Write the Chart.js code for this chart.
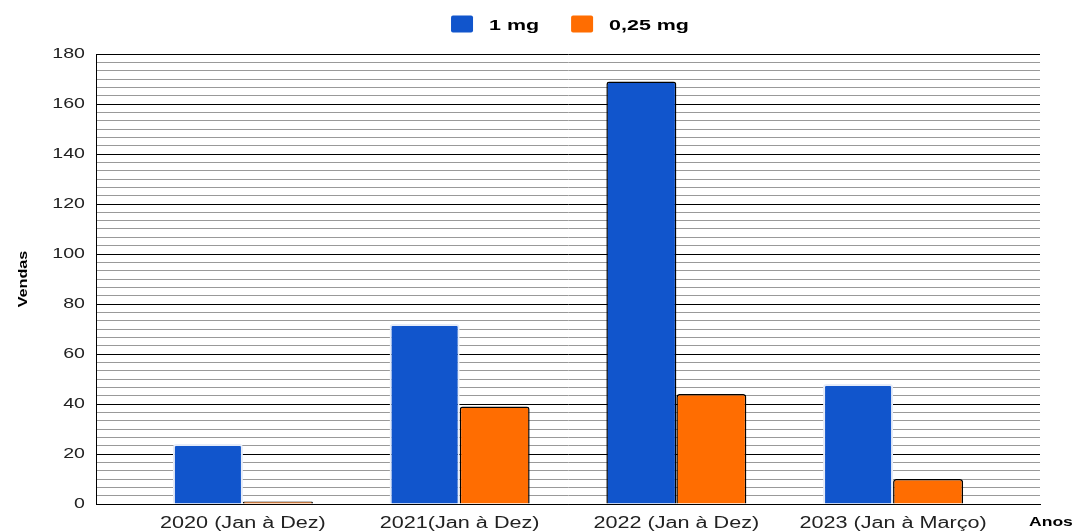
<!DOCTYPE html>
<html>
<head>
<meta charset="utf-8">
<script src="https://cdn.jsdelivr.net/npm/chart.js@4.4.0/dist/chart.umd.min.js"></script>
<style>
  html, body { margin: 0; padding: 0; background: #ffffff; }
  #wrap { width: 1075px; height: 531px; position: relative; }
</style>
</head>
<body>
<div id="wrap"><canvas id="c"></canvas></div>
<script>
const categories = ['2020 (Jan à Dez)', '2021(Jan à Dez)', '2022 (Jan à Dez)', '2023 (Jan à Março)'];
const series1mg = [24, 72, 169, 48];
const series025mg = [1, 39, 44, 10];
const seriesNames = ['1 mg', '0,25 mg'];
const yMin = 0;
const yMax = 180;
const yLabelStep = 20;
const yMinorPerLabel = 6;
const xAxisTitle = 'Anos';
const yAxisTitle = 'Vendas';

const BLUE = '#1155cc';
const ORANGE = '#ff6d01';
const FONT = '"Liberation Sans", Arial, sans-serif';
const TEXT_STRETCH = 1.35;   // the reference text is drawn horizontally widened
const LEGEND_STRETCH = 1.43;

const canvas = document.getElementById('c');
const ctx2d = canvas.getContext('2d');
const origFillText = ctx2d.fillText.bind(ctx2d);
ctx2d.fillText = function (t, x, y, mw) {
  this.save();
  this.translate(x, y);
  this.scale(TEXT_STRETCH, 1);
  if (mw === undefined) origFillText(t, 0, 0); else origFillText(t, 0, 0, mw / TEXT_STRETCH);
  this.restore();
};

function stretchedText(ctx, text, x, y, s) {
  ctx.save();
  ctx.translate(x, y);
  ctx.scale(s, 1);
  origFillText(text, 0, 0);
  ctx.restore();
}

const legendPlugin = {
  id: 'customLegend',
  afterDraw(chart) {
    const ctx = chart.ctx;
    const area = chart.chartArea;
    ctx.save();
    ctx.font = 'bold 15px ' + FONT;
    const items = chart.data.datasets.map(d => ({ text: d.label, color: d.backgroundColor }));
    const boxW = 22, boxH = 17, gap = 16, spacing = 32;
    let total = 0;
    items.forEach((it, i) => {
      it.w = ctx.measureText(it.text).width * LEGEND_STRETCH;
      total += boxW + gap + it.w + (i < items.length - 1 ? spacing : 0);
    });
    let x = (area.left + area.right) / 2 + 2 - total / 2;
    const yTop = 15.5;
    items.forEach(it => {
      ctx.fillStyle = it.color;
      ctx.beginPath();
      ctx.roundRect(x, yTop, boxW, boxH, 2);
      ctx.fill();
      ctx.fillStyle = '#000';
      ctx.textBaseline = 'alphabetic';
      ctx.textAlign = 'left';
      stretchedText(ctx, it.text, x + boxW + gap, 29.5, LEGEND_STRETCH);
      x += boxW + gap + it.w + spacing;
    });
    // x-axis title to the right of the tick labels
    ctx.font = 'bold 13px ' + FONT;
    ctx.fillStyle = '#000';
    ctx.textAlign = 'left';
    ctx.textBaseline = 'middle';
    stretchedText(ctx, xAxisTitle, area.right - 11, 522, TEXT_STRETCH);
    ctx.restore();
  }
};

new Chart(canvas, {
  type: 'bar',
  data: {
    labels: categories,
    datasets: [
      {
        label: seriesNames[0],
        data: series1mg,
        backgroundColor: BLUE,
        borderColor: ['#e6ecf8', '#e6ecf8', '#000000', '#e6ecf8'],
        borderWidth: [2, 2, 1.5, 2],
        borderRadius: 3,
        borderSkipped: 'bottom',
        categoryPercentage: 0.646,
        barPercentage: 1.0
      },
      {
        label: seriesNames[1],
        data: series025mg,
        backgroundColor: ORANGE,
        borderColor: '#000000',
        borderWidth: 1.5,
        borderRadius: 3,
        borderSkipped: 'bottom',
        categoryPercentage: 0.646,
        barPercentage: 1.0
      }
    ]
  },
  options: {
    responsive: true,
    maintainAspectRatio: false,
    animation: false,
    devicePixelRatio: 1,
    layout: { padding: { top: 54, right: 35, bottom: 0, left: 0 } },
    plugins: {
      legend: { display: false },
      tooltip: { enabled: false }
    },
    scales: {
      x: {
        offset: true,
        grid: { display: false, drawTicks: false },
        border: { display: true, color: '#000000', width: 1 },
        ticks: {
          color: '#222222',
          font: { family: FONT, size: 16 },
          padding: 10,
          maxRotation: 0,
          autoSkip: false
        },
        afterBuildTicks(scale) {
          const extra = 0.178;
          scale._startValue = -0.5 - extra;
          scale._valueRange = categories.length + 2 * extra;
        },
        afterFit(scale) { scale.height = 27; }
      },
      y: {
        min: yMin,
        max: yMax,
        afterBuildTicks(scale) {
          const n = (yMax - yMin) / yLabelStep * yMinorPerLabel;
          const t = [];
          for (let i = 0; i <= n; i++) t.push({ value: yMin + i * yLabelStep / yMinorPerLabel });
          scale.ticks = t;
        },
        grid: {
          drawTicks: false,
          color: (c) => (c.index % yMinorPerLabel === 0 ? '#000000' : '#999999'),
          lineWidth: 1
        },
        border: { display: true, color: '#000000', width: 1 },
        ticks: {
          autoSkip: false,
          color: '#222222',
          font: { family: FONT, size: 14.5 },
          padding: 11,
          callback: (v, i) => (i % yMinorPerLabel === 0 ? String(Math.round(v)) : '')
        },
        title: {
          display: true,
          text: yAxisTitle,
          color: '#000000',
          font: { family: FONT, size: 12, weight: 'bold' },
          padding: { top: 16, bottom: 0 }
        },
        afterFit(scale) { scale.width = 96; }
      }
    }
  },
  plugins: [legendPlugin]
});
</script>
</body>
</html>
